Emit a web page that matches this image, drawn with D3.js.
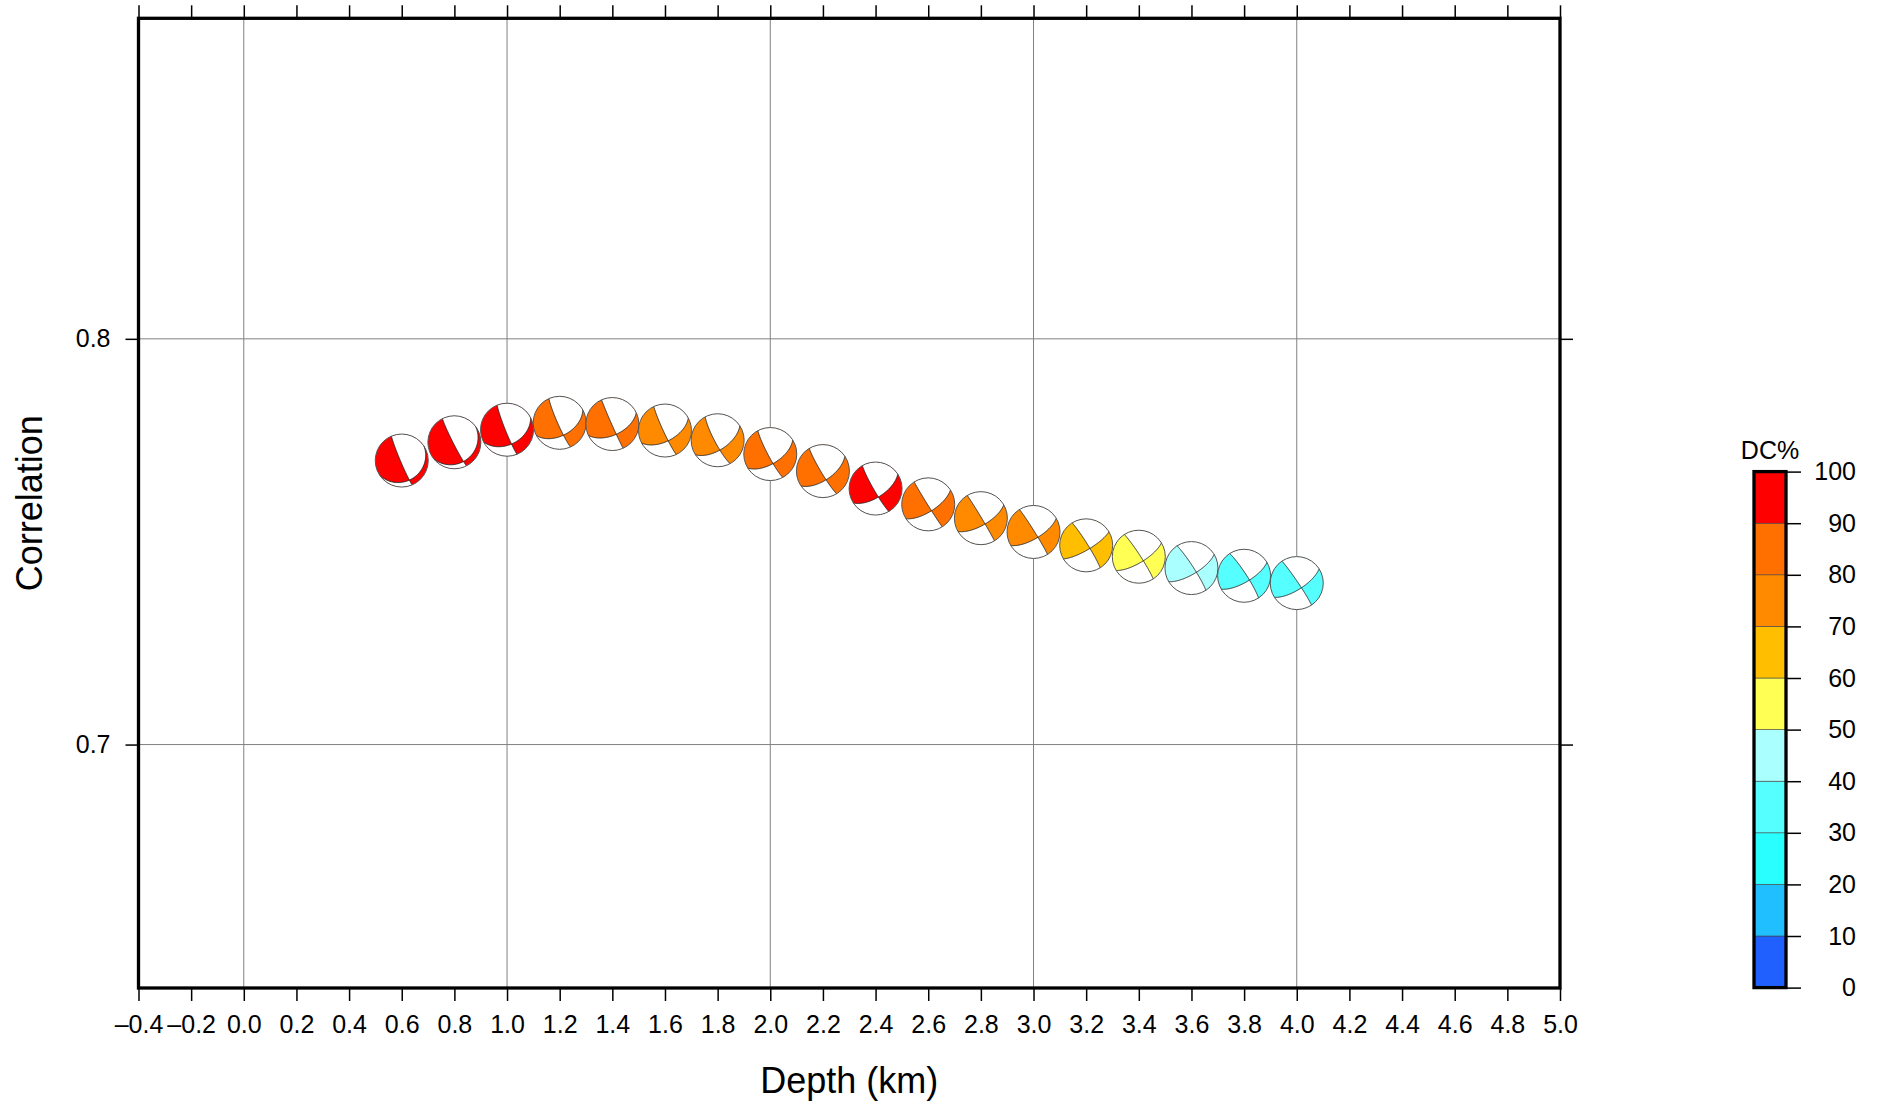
<!DOCTYPE html>
<html>
<head>
<meta charset="utf-8">
<script src="https://cdn.jsdelivr.net/npm/d3@7"></script>
<style>
body { margin: 0; background: #fff; }
text { font-family: "Liberation Sans", Arial, Helvetica, sans-serif; fill: #000; }
</style>
</head>
<body>
<div id="chart"></div>
<script>
// trial source depths (km) and the fit of each solution
var depths = [0.6, 0.8, 1.0, 1.2, 1.4, 1.6, 1.8, 2.0, 2.2, 2.4, 2.6, 2.8, 3.0, 3.2, 3.4, 3.6, 3.8, 4.0];
var correlation = [0.7700, 0.7745, 0.7776, 0.7793, 0.7790, 0.7774, 0.7750, 0.7716, 0.7674, 0.7631,
                   0.7592, 0.7558, 0.7524, 0.7491, 0.7463, 0.7435, 0.7416, 0.7398];
var dcPercent = [95, 93, 91, 85, 84, 78, 77, 82, 83, 92, 81, 76, 75, 65, 55, 45, 35, 33];
// nodal plane 1 of each mechanism
var strike = [157, 153, 158, 156, 156, 155, 152, 152, 149, 150, 148, 329, 328, 328, 327, 327, 327, 326];
var dip    = [86, 86, 85, 84, 88, 85, 81, 83, 84, 84, 88, 88, 87, 85, 85, 84, 83, 86];
var rake   = [-112, -111, -133, -140, -146, -147, -150, -150, -152, -153, -158, 158, 159, 166, 162, 161, 160, 160];

var xTicks = d3.range(-4, 51, 2).map(function (d) { return d / 10; });
var xGrid = [0, 1, 2, 3, 4];
var yTicks = [0.7, 0.8];
var dcTicks = [0, 10, 20, 30, 40, 50, 60, 70, 80, 90, 100];
var dcColors = ["#2060ff", "#20bfff", "#2affff", "#55ffff", "#aaffff",
                "#ffff54", "#ffbf00", "#ff8a00", "#ff7000", "#ff0000"];

(function () {

    var W = 1881, H = 1106;
    var left = 138.5, right = 1560, top = 18.3, bottom = 988;

    var svg = d3.select("#chart").append("svg")
        .attr("width", W)
        .attr("height", H)
        .style("display", "block");

    svg.append("rect").attr("width", W).attr("height", H).attr("fill", "#fff");

    var x = d3.scaleLinear().domain([-0.4, 5.0]).range([left, right]);
    var y = d3.scaleLinear().domain([0.64, 0.879]).range([bottom, top]);

    var fmt = function (d) { return d3.format(".1f")(d).replace("-", "\u2013").replace("\u2212", "\u2013"); };

    // grid
    svg.append("g").selectAll("line")
        .data(xGrid)
        .enter().append("line")
        .attr("x1", function (d) { return x(d); })
        .attr("x2", function (d) { return x(d); })
        .attr("y1", top).attr("y2", bottom)
        .attr("stroke", "#808080").attr("stroke-width", 1);

    svg.append("g").selectAll("line")
        .data(yTicks)
        .enter().append("line")
        .attr("y1", function (d) { return y(d); })
        .attr("y2", function (d) { return y(d); })
        .attr("x1", left).attr("x2", right)
        .attr("stroke", "#808080").attr("stroke-width", 1);

    // axes
    var xb = svg.append("g")
        .attr("transform", "translate(0," + bottom + ")")
        .call(d3.axisBottom(x).tickValues(xTicks).tickSize(13).tickFormat(fmt));
    xb.select(".domain").remove();
    xb.selectAll("line").attr("stroke", "#000").attr("stroke-width", 1.5);
    xb.selectAll("text").attr("y", 27).attr("dy", "0.71em")
        .style("font-size", "25px").style("font-family", "Liberation Sans, Arial, sans-serif");

    var xt = svg.append("g")
        .attr("transform", "translate(0," + top + ")")
        .call(d3.axisTop(x).tickValues(xTicks).tickSize(13).tickFormat(""));
    xt.select(".domain").remove();
    xt.selectAll("line").attr("stroke", "#000").attr("stroke-width", 1.5);

    var yl = svg.append("g")
        .attr("transform", "translate(" + left + ",0)")
        .call(d3.axisLeft(y).tickValues(yTicks).tickSize(13).tickPadding(15).tickFormat(d3.format(".1f")));
    yl.select(".domain").remove();
    yl.selectAll("line").attr("stroke", "#000").attr("stroke-width", 1.5);
    yl.selectAll("text").style("font-size", "25px").style("font-family", "Liberation Sans, Arial, sans-serif");

    var yr = svg.append("g")
        .attr("transform", "translate(" + right + ",0)")
        .call(d3.axisRight(y).tickValues(yTicks).tickSize(13).tickFormat(""));
    yr.select(".domain").remove();
    yr.selectAll("line").attr("stroke", "#000").attr("stroke-width", 1.5);

    // axis titles
    svg.append("text")
        .attr("x", (left + right) / 2)
        .attr("y", 1093)
        .attr("text-anchor", "middle")
        .style("font-size", "36px")
        .text("Depth (km)");

    svg.append("text")
        .attr("transform", "translate(42," + ((top + bottom) / 2) + ") rotate(-90)")
        .attr("text-anchor", "middle")
        .style("font-size", "36px")
        .text("Correlation");

    // ---------- beach balls ----------
    function rad(a) { return a * Math.PI / 180; }

    function cross(a, b) {
        return [a[1] * b[2] - a[2] * b[1], a[2] * b[0] - a[0] * b[2], a[0] * b[1] - a[1] * b[0]];
    }

    // normal and slip vector in north-east-down coordinates
    function mech(s, d, r) {
        s = rad(s); d = rad(d); r = rad(r);
        var n = [-Math.sin(d) * Math.sin(s), Math.sin(d) * Math.cos(s), -Math.cos(d)];
        var u = [Math.cos(r) * Math.cos(s) + Math.cos(d) * Math.sin(r) * Math.sin(s),
                 Math.cos(r) * Math.sin(s) - Math.cos(d) * Math.sin(r) * Math.cos(s),
                 -Math.sin(r) * Math.sin(d)];
        return [n, u];
    }

    // lower hemisphere, equal area
    function project(v) {
        var len = Math.hypot(v[0], v[1], v[2]);
        var n = v[0] / len, e = v[1] / len, dd = v[2] / len;
        if (dd < 0) { n = -n; e = -e; dd = -dd; }
        var th = Math.acos(Math.min(1, dd));
        var r = Math.SQRT2 * Math.sin(th / 2);
        var h = Math.hypot(n, e) || 1;
        return [r * e / h, -r * n / h];
    }

    // nodal arc of the plane with normal nrm, plus the half disc on its positive side
    function halfDisc(nrm) {
        var hl = Math.hypot(nrm[0], nrm[1]);
        var h = [-nrm[1] / hl, nrm[0] / hl, 0];
        var v = cross(nrm, h);
        if (v[2] < 0) v = v.map(function (c) { return -c; });
        var vl = Math.hypot(v[0], v[1], v[2]);
        v = v.map(function (c) { return c / vl; });
        var arc = [];
        for (var i = 0; i <= 90; i++) {
            var t = Math.PI * i / 90;
            arc.push(project([Math.cos(t) * h[0] + Math.sin(t) * v[0],
                              Math.cos(t) * h[1] + Math.sin(t) * v[1],
                              Math.cos(t) * h[2] + Math.sin(t) * v[2]]));
        }
        var azW = Math.atan2(nrm[1], nrm[0]);
        var azStart = Math.atan2(-h[1], -h[0]);
        var delta = Math.PI;
        if (Math.cos(azStart + delta / 2 - azW) < 0) delta = -Math.PI;
        var per = [];
        for (var j = 1; j < 90; j++) {
            var a = azStart + delta * j / 90;
            per.push([Math.sin(a), -Math.cos(a)]);
        }
        return { arc: arc, half: arc.concat(per) };
    }

    var R = 26.5;
    var line = d3.line().x(function (p) { return p[0] * R; }).y(function (p) { return p[1] * R; });
    var dcColor = d3.scaleThreshold().domain(dcTicks.slice(1, 10)).range(dcColors);

    var balls = depths.map(function (d, i) {
        return { depth: d, corr: correlation[i], dc: dcPercent[i], s: strike[i], dp: dip[i], rk: rake[i] };
    });

    var g = svg.append("g").selectAll("g.ball")
        .data(balls)
        .enter().append("g")
        .attr("class", "ball")
        .attr("transform", function (d) { return "translate(" + x(d.depth) + "," + y(d.corr) + ")"; });

    g.each(function (d) {
        var el = d3.select(this);
        var m = mech(d.s, d.dp, d.rk);
        var p1 = halfDisc(m[0]), p2 = halfDisc(m[1]);
        el.append("circle").attr("r", R).attr("fill", dcColor(d.dc));
        el.append("path")
            .attr("d", line(p1.half) + "Z" + line(p2.half) + "Z")
            .attr("fill", "#fff")
            .attr("fill-rule", "evenodd");
        el.append("path").attr("d", line(p1.arc)).attr("fill", "none").attr("stroke", "#222").attr("stroke-width", 0.9);
        el.append("path").attr("d", line(p2.arc)).attr("fill", "none").attr("stroke", "#222").attr("stroke-width", 0.9);
        el.append("circle").attr("r", R).attr("fill", "none").attr("stroke", "#555").attr("stroke-width", 1);
    });

    // frame
    svg.append("rect")
        .attr("x", left).attr("y", top)
        .attr("width", right - left).attr("height", bottom - top)
        .attr("fill", "none").attr("stroke", "#000").attr("stroke-width", 3.3);

    // ---------- DC% colour bar ----------
    var cbL = 1754, cbR = 1786;
    var c = d3.scaleLinear().domain([0, 100]).range([987.6, 471.6]);

    svg.append("g").selectAll("rect")
        .data(dcColors)
        .enter().append("rect")
        .attr("x", cbL)
        .attr("width", cbR - cbL)
        .attr("y", function (d, i) { return c(dcTicks[i + 1]); })
        .attr("height", function (d, i) { return c(dcTicks[i]) - c(dcTicks[i + 1]); })
        .attr("fill", function (d) { return d; })
        .attr("stroke", "#444").attr("stroke-width", 0.6);

    svg.append("rect")
        .attr("x", cbL).attr("y", c(100))
        .attr("width", cbR - cbL).attr("height", c(0) - c(100))
        .attr("fill", "none").attr("stroke", "#000").attr("stroke-width", 3.3);

    var cb = svg.append("g")
        .attr("transform", "translate(" + cbR + ",0)")
        .call(d3.axisRight(c).tickValues(dcTicks).tickSize(15).tickFormat(d3.format("d")));
    cb.select(".domain").remove();
    cb.selectAll("line").attr("stroke", "#000").attr("stroke-width", 1.5);
    cb.selectAll("text")
        .attr("x", 1856 - cbR)
        .attr("text-anchor", "end")
        .style("font-size", "25px").style("font-family", "Liberation Sans, Arial, sans-serif");

    svg.append("text")
        .attr("x", 1770)
        .attr("y", 459)
        .attr("text-anchor", "middle")
        .style("font-size", "25px")
        .text("DC%");

})();
</script>
</body>
</html>
